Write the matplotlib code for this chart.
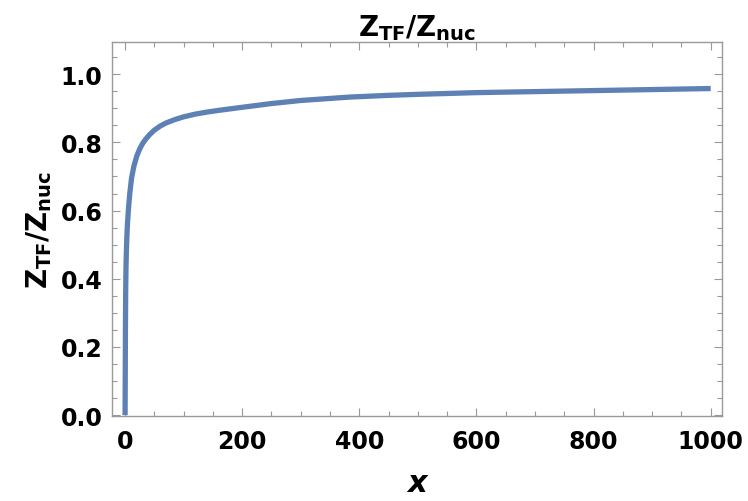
import matplotlib
matplotlib.use("Agg")
import matplotlib.pyplot as plt
from matplotlib.ticker import MultipleLocator

plt.rcParams['font.family'] = ['DejaVu Sans']
plt.rcParams['mathtext.fontset'] = 'custom'
plt.rcParams['mathtext.rm'] = 'DejaVu Sans:bold'
plt.rcParams['mathtext.it'] = 'DejaVu Sans:bold'
plt.rcParams['mathtext.bf'] = 'DejaVu Sans:bold'

# values
x_vals = [0, 0.3, 0.6, 1.0, 1.5, 2.2, 3, 4, 6, 8, 11, 15, 20, 25, 30, 35, 42,
          50, 60, 70, 85, 100, 120, 140, 160, 200, 250, 300, 384, 450, 500,
          600, 700, 800, 900, 1000]
ratio_vals = [0.0, 0.12, 0.25, 0.36, 0.43, 0.48, 0.52, 0.56, 0.61, 0.65, 0.695,
              0.73, 0.76, 0.781, 0.797, 0.809, 0.823, 0.836, 0.848, 0.857,
              0.867, 0.875, 0.883, 0.889, 0.894, 0.903, 0.914, 0.923, 0.933,
              0.938, 0.941, 0.946, 0.949, 0.952, 0.955, 0.958]

x_ticks = [0, 200, 400, 600, 800, 1000]
y_ticks = [0.0, 0.2, 0.4, 0.6, 0.8, 1.0]

fig = plt.figure(figsize=(7.48, 5.02), dpi=100)
ax = fig.add_axes([0.150, 0.169, 0.815, 0.745])

ax.plot(x_vals, ratio_vals, color='#5E81B5', lw=3.8, solid_capstyle='butt')

ax.set_xlim(-22, 1019)
ax.set_ylim(-0.003, 1.094)
ax.set_xticks(x_ticks)
ax.set_yticks(y_ticks)
ax.set_yticklabels(['%.1f' % v for v in y_ticks])
ax.xaxis.set_minor_locator(MultipleLocator(50))
ax.yaxis.set_minor_locator(MultipleLocator(0.05))

for s in ax.spines.values():
    s.set_color('#999999')
    s.set_linewidth(1.0)

ax.tick_params(which='both', direction='in', top=True, right=True,
               color='#999999', width=0.8)
ax.tick_params(which='major', length=6, labelsize=17, pad=7)
ax.tick_params(axis='x', which='major', pad=9)
ax.tick_params(which='minor', length=3.5)
for lab in ax.get_xticklabels() + ax.get_yticklabels():
    lab.set_fontweight('bold')

ax.set_title(r'$Z_{TF}/Z_{nuc}$', fontsize=20, pad=5)
ax.set_ylabel(r'$Z_{TF}/Z_{nuc}$', fontsize=20, labelpad=5)
ax.set_xlabel('x', fontsize=22, fontweight='bold', fontstyle='italic', labelpad=11)

fig.savefig('out.png', dpi=100)
